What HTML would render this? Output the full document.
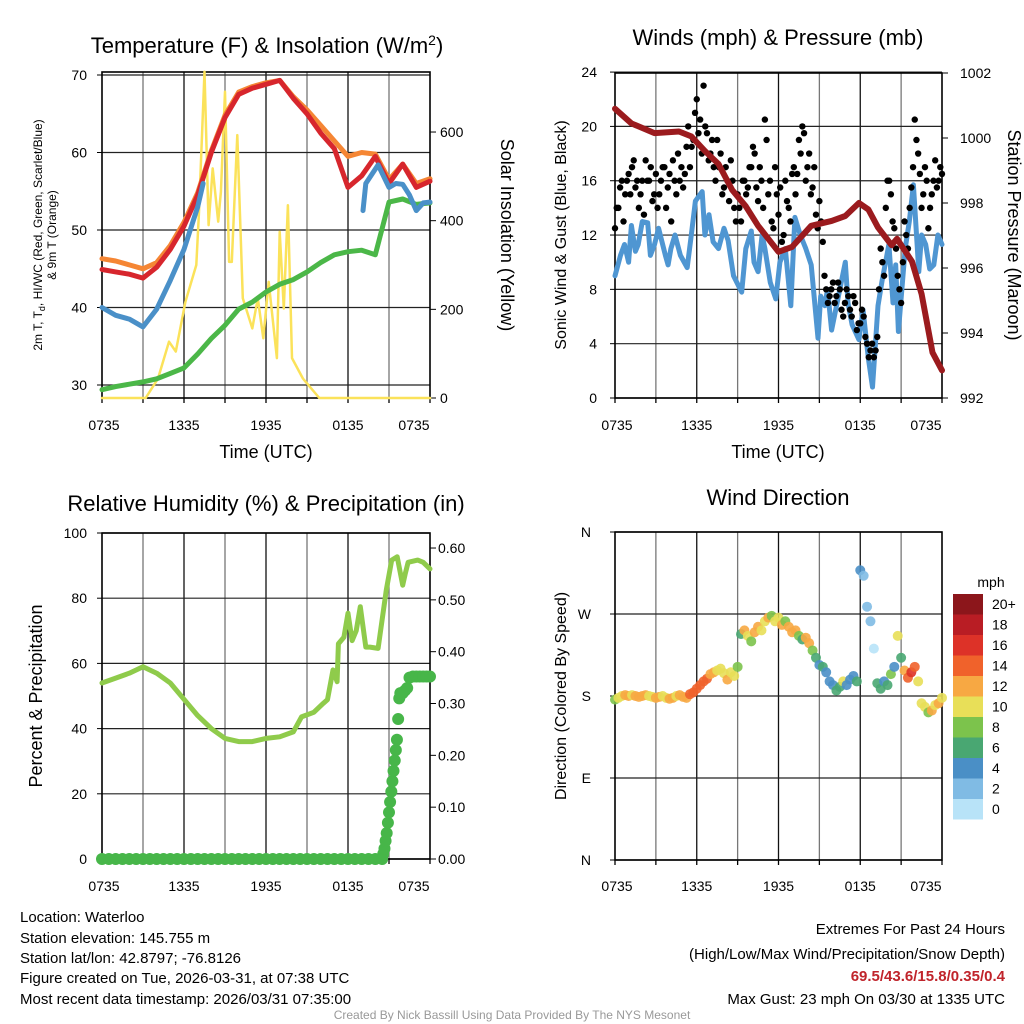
<!DOCTYPE html>
<html><head><meta charset="utf-8"><style>
html,body{margin:0;padding:0;background:#fff;}
svg{display:block;font-family:"Liberation Sans",Arial,sans-serif;}
</style></head><body>
<svg id="c" width="1024" height="1024" viewBox="0 0 1024 1024" xmlns="http://www.w3.org/2000/svg">
<g id="g"></g>
<text x="267" y="53" font-size="22" text-anchor="middle">Temperature (F) &amp; Insolation (W/m<tspan dy="-8" font-size="14">2</tspan><tspan dy="8">)</tspan></text>
<text x="778" y="45" font-size="22" text-anchor="middle">Winds (mph) &amp; Pressure (mb)</text>
<text x="266" y="511" font-size="22" text-anchor="middle">Relative Humidity (%) &amp; Precipitation (in)</text>
<text x="778" y="505" font-size="22" text-anchor="middle">Wind Direction</text>
<text x="266" y="458" font-size="18" text-anchor="middle">Time (UTC)</text>
<text x="778" y="458" font-size="18" text-anchor="middle">Time (UTC)</text>
<text transform="translate(42,235) rotate(-90)" font-size="12" text-anchor="middle">2m T, T<tspan dy="3" font-size="9">d</tspan><tspan dy="-3">, HI/WC (Red, Green, Scarlet/Blue)</tspan></text>
<text transform="translate(56,235) rotate(-90)" font-size="12" text-anchor="middle">&amp; 9m T (Orange)</text>
<text transform="translate(501,235) rotate(90)" font-size="18" text-anchor="middle">Solar Insolation (Yellow)</text>
<text transform="translate(566,235) rotate(-90)" font-size="16" text-anchor="middle">Sonic Wind &amp; Gust (Blue, Black)</text>
<text transform="translate(1008,235) rotate(90)" font-size="18" text-anchor="middle">Station Pressure (Maroon)</text>
<text transform="translate(42,696) rotate(-90)" font-size="18" text-anchor="middle">Percent &amp; Precipitation</text>
<text transform="translate(566,696) rotate(-90)" font-size="16" text-anchor="middle">Direction (Colored By Speed)</text>
<text x="991" y="587" font-size="14" text-anchor="middle">mph</text>
<g font-size="15">
<text x="20" y="922">Location: Waterloo</text>
<text x="20" y="943">Station elevation: 145.755 m</text>
<text x="20" y="963">Station lat/lon: 42.8797; -76.8126</text>
<text x="20" y="983">Figure created on Tue, 2026-03-31, at 07:38 UTC</text>
<text x="20" y="1004">Most recent data timestamp: 2026/03/31 07:35:00</text>
</g>
<g font-size="15" text-anchor="end">
<text x="1005" y="934">Extremes For Past 24 Hours</text>
<text x="1005" y="959">(High/Low/Max Wind/Precipitation/Snow Depth)</text>
<text x="1005" y="981" fill="#c0242b" font-weight="bold">69.5/43.6/15.8/0.35/0.4</text>
<text x="1005" y="1004">Max Gust: 23 mph On 03/30 at 1335 UTC</text>
</g>
<text x="512" y="1019" font-size="12" fill="#999" text-anchor="middle">Created By Nick Bassill Using Data Provided By The NYS Mesonet</text>
</svg>
<script>
// ---- data ----
const tempHours=[0,1,2,3,4,5,6,7,8,9,10,11,12,13,14,15,16,17,18,19,20,21,22,23,24];
const redT=[44.9,44.6,44.3,43.8,45.2,47.5,50.5,54.5,60,64.5,67.5,68.3,68.8,69.3,67,65,62.5,60.5,55.5,57,59.5,56,58.5,55.5,56.3];
const orangeT=[46.3,46,45.5,45,45.8,48,51,54.8,60.2,64.8,67.8,68.5,69,69.3,67.2,65.5,63.5,61.5,59.5,60,59.8,56.5,58.5,56,56.6];
const greenTd=[29.4,29.8,30.1,30.4,30.8,31.5,32.2,34,36,37.7,39.8,40.7,42,43,43.6,44.6,45.8,46.8,47.2,47.4,46.8,53.6,54,53.3,53.5];
const blueHours=[0,1,2,3,4,5,6,7,7.4,null,19.1,19.3,20.2,21,21.5,22,22.5,23,23.5,24];
const blueHI=[40,39,38.5,37.5,39.8,43.5,47.5,53,56,null,52.5,56,58.4,55.5,56,55.9,54.5,52.5,53.5,53.6];
const solHours=[0,3.2,4.1,4.9,5.4,6.1,6.9,7.1,7.5,7.8,8.1,8.5,8.7,9,9.3,9.5,9.9,10.3,11,11.4,11.8,12.2,12.8,13,13.3,13.6,13.9,14.7,15.9,24];
const solVals=[0,0,44,127,105,217,300,420,736,390,518,398,465,691,307,307,593,225,157,225,135,262,90,375,202,435,90,44,0,0];
const presHours=[0,1.2,2.9,4.7,5.6,6.6,7.6,8.6,9.6,10.5,12,13,14.4,15.9,16.9,17.9,18.6,19.3,20.3,20.7,21.8,22.5,23.3,24];
const presVals=[1000.9,1000.45,1000.15,1000.2,1000.05,999.6,999.2,998.4,997.9,997.3,996.5,996.65,997.3,997.45,997.6,998,997.8,997.25,996.7,996.9,996.2,995.2,993.4,992.85];
const windHours=[0,0.4,0.7,1,1.2,1.5,1.7,2,2.4,2.6,2.9,3.2,3.7,3.9,4.1,4.4,4.8,5.3,5.6,5.9,6.4,6.6,6.9,7.2,7.6,8,8.3,8.7,9.3,9.6,10,10.2,10.5,10.8,11,11.4,11.8,12.1,12.5,12.9,13.2,13.6,14,14.4,14.9,15.1,15.4,15.6,15.9,16.3,16.9,17.1,17.4,17.9,18.2,18.6,18.9,19.3,19.6,20.1,20.4,20.6,20.8,21.3,21.6,21.9,22.3,22.5,22.8,23.1,23.4,23.7,24];
const windVals=[9,10.5,11.3,10,12.7,10.8,11.3,13,12.9,10.5,11.3,12.5,10.5,9.8,11,12,10.5,9.6,12,14.5,15.2,12,13.5,11.5,11,12.5,11.6,9,7.8,11,12.3,10,9.3,12,11,8.5,7.3,10,11,6.8,13.3,12,11,9.8,4.4,7.5,6.8,8,5,7,10,7,5.4,4.3,6.5,2.9,0.8,6.8,8.6,11.3,7,9.8,4.9,11,13,15.7,9.3,12,11.3,9.5,9.8,12,11.3];
const gustVals=[12.5,14,16,15,16.5,17,15.5,14,16,17.5,16,14.5,16.5,15,17,14,16.5,17.5,15,16,15.5,18.5,17,19,22,20.5,23,19.5,18,17,19,18,15.5,16,17.5,14,15,13,16,15.5,17,18,14.5,16,20.5,15,13,17,13.5,11.5,16,14,16.5,15,19,20,16,18,15.5,13.5,14.5,11.5,8,7.5,8.5,7.5,8,6,8,6.5,7.5,5,5.5,6,4,3.5,3,4.5,11,9,16,15,12.5,9,7,13,11,15.5,20.5,18,14,17,12.5,15,17.5,16,16.5];
const gustVals2=[14,15.5,13,16,15,17.5,16,15,13.5,16,17,15,14,16,17,15.5,13,16,18,17,16.5,20,18.5,21,19.5,18,20,17.5,19,16,17,15,17,14.5,16,13,14,16,15,17,18.5,15.5,17,14,19,16,12.5,15,15.5,12,14.5,13,17,16.5,18,19.5,17,15,17,12.5,13,9,7,8,7,8.5,6.5,7,7.5,6,7,5.5,6.5,4.5,3,4,3.5,8,10,14,16,13,11,8,10,12,14,17,19,16.5,15,16,14,16,15.5,17];
const rhHours=[0,1,2,3,4,5,6,7,8,9,10,11,12,13,14,14.6,15.5,16.2,16.5,16.9,17.2,17.3,17.7,18,18.3,18.6,18.9,19.3,19.6,20.2,20.8,21.2,21.6,22,22.2,22.4,23.1,23.5,24];
const rhVals=[54,55.5,57,59,57,54,49,44,40,37,36,36,37,37.5,39,43.6,45,47.8,48.9,58,54.4,66,68,75.4,67,70,77.4,65,65,64.6,82.5,91.7,92.7,84,87.7,91,91.7,91,89];
const precipHours=[0,0.5,1,1.5,2,2.5,3,3.5,4,4.5,5,5.5,6,6.5,7,7.5,8,8.5,9,9.5,10,10.5,11,11.5,12,12.5,13,13.5,14,14.5,15,15.5,16,16.5,17,17.5,18,18.5,19,19.5,20,20.5,20.58,20.67,20.75,20.83,20.92,21,21.08,21.17,21.25,21.33,21.42,21.5,21.58,21.67,21.75,21.83,22,22.17,22.33,22.5,22.75,23,23.25,23.5,23.75,24];
const precipVals=[0,0,0,0,0,0,0,0,0,0,0,0,0,0,0,0,0,0,0,0,0,0,0,0,0,0,0,0,0,0,0,0,0,0,0,0,0,0,0,0,0,0,0.01,0.02,0.035,0.05,0.07,0.09,0.11,0.13,0.15,0.17,0.19,0.21,0.23,0.27,0.31,0.32,0.32,0.325,0.33,0.35,0.352,0.352,0.352,0.352,0.352,0.352];
const dirVals=[176,178,180,181,180,181,180,179,180,181,180,179,178,179,180,178,177,178,180,181,179,178,182,184,188,192,196,199,204,206,208,210,205,198,206,202,212,248,252,246,240,250,256,252,262,266,268,262,266,258,262,256,250,252,246,242,244,238,230,222,214,212,206,196,192,186,190,196,192,198,202,196,318,312,278,262,232,194,188,196,192,204,212,246,222,208,200,206,212,196,172,168,162,164,170,172,178];
const dirSpeed=[8,10,11,12,12,11,12,13,12,12,11,10,12,12,11,10,12,12,11,12,13,12,14,14,15,15,14,15,13,12,11,10,10,12,11,10,8,7,12,11,9,13,12,10,11,12,9,11,10,12,8,12,13,12,8,7,12,13,8,6,5,6,5,4,5,6,7,10,5,4,4,6,4,2,2,3,1,6,7,5,6,8,4,10,7,12,14,16,15,11,10,10,9,12,11,12,10];
const timeLabels=['0735','1335','1935','0135','0735'];
const tempTicks=[30,40,50,60,70];
const solTicks=[0,200,400,600];
const windTicks=[0,4,8,12,16,20,24];
const presTicks=[992,994,996,998,1000,1002];
const rhTicks=[0,20,40,60,80,100];
const precipTicks=[0,0.1,0.2,0.3,0.4,0.5,0.6];
const dirTicks=['N','E','S','W','N'];
const cbLabels=['20+','18','16','14','12','10','8','6','4','2','0'];
const cbColors=['#8c161b','#b91d24','#dd3228','#f0622b','#f7a843','#e8df58','#7cc34c','#49a772','#4a8fc6','#80bbe4','#b8e3f8'];

// ---- scales ----
const xL=h=>102+h*328/24, xR=h=>615+h*327/24;
const yT=t=>385-(t-30)*7.75, yS=w=>398-w*0.4433;
const yV=v=>398-v*13.58, yP=p=>398-(p-992)*32.5;
const yRH=r=>859-r*3.26, yPr=p=>859-p*518.3;
const yD=d=>860-d*328/360;
const NS='http://www.w3.org/2000/svg';
const G=document.getElementById('g');
function mk(tag,attrs,parent){const e=document.createElementNS(NS,tag);for(const k in attrs)e.setAttribute(k,attrs[k]);(parent||G).appendChild(e);return e;}
function pathD(hs,vs,fx,fy){let d='',pen=false;for(let i=0;i<hs.length;i++){if(hs[i]===null||vs[i]===null){pen=false;continue;}d+=(pen?'L':'M')+fx(hs[i]).toFixed(1)+','+fy(vs[i]).toFixed(1);pen=true;}return d;}
function line(hs,vs,fx,fy,color,w,name){const p=mk('path',{d:pathD(hs,vs,fx,fy),fill:'none',stroke:color,'stroke-width':w,'stroke-linejoin':'round','stroke-linecap':'round'});


return p;}
function txt(x,y,s,size,anchor,name){const t=mk('text',{x:x,y:y,'font-size':size,'text-anchor':anchor});t.textContent=s;


return t;}

function frame(x0,x1,y0,y1,hLines,name){
  const g=mk('g',{});
  
  
  for(let i=1;i<8;i++){const x=x0+(x1-x0)*i/8;mk('line',{x1:x,x2:x,y1:y0,y2:y1,stroke:(i%2?'#777':'#111'),'stroke-width':1.3},g);}
  hLines.forEach(y=>mk('line',{x1:x0,x2:x1,y1:y,y2:y,stroke:'#222','stroke-width':1.2},g));
  for(let i=0;i<=8;i++){const x=x0+(x1-x0)*i/8;mk('line',{x1:x,x2:x,y1:y1,y2:y1+5,stroke:'#000','stroke-width':1.3},g);}
  mk('rect',{x:x0,y:y0,width:x1-x0,height:y1-y0,fill:'none',stroke:'#000','stroke-width':1.6},g);
  return g;
}
function xLabels(fx,y,name){timeLabels.forEach((s,i)=>{let x=fx(i*6);if(i==0)x+=2;if(i==4)x-=16;txt(x,y,s,14,'middle',name);});}

// ---- Panel 1: temperature ----
frame(102,430,72,398,tempTicks.map(yT),'temperature-plot-area');
tempTicks.forEach(t=>{txt(87,yT(t)+5,String(t),14,'end','temp-y-tick');mk('line',{x1:97,x2:102,y1:yT(t),y2:yT(t),stroke:'#000'});});
solTicks.forEach(w=>{txt(440,yS(w)+5,String(w),14,'start','solar-y-tick');mk('line',{x1:430,x2:436,y1:yS(w),y2:yS(w),stroke:'#000'});});
xLabels(xL,430,'temp-x-tick');
line(solHours,solVals,xL,yS,'#fbe25a',2.5,'solar-insolation-line');
line(tempHours,greenTd,xL,yT,'#4bb748',5,'dewpoint-line');
line(tempHours,orangeT,xL,yT,'#f58634',5,'temp-9m-line');
line(tempHours,redT,xL,yT,'#d7262d',5,'temp-2m-line');
line(blueHours,blueHI,xL,yT,'#4a90c8',5,'heat-index-line');

// ---- Panel 2: winds ----
frame(615,942,73,398,windTicks.map(yV),'winds-plot-area');
windTicks.forEach(v=>{txt(597,yV(v)+5,String(v),14,'end','wind-y-tick');mk('line',{x1:610,x2:615,y1:yV(v),y2:yV(v),stroke:'#000'});});
presTicks.forEach(p=>{txt(960,yP(p)+5,String(p),14,'start','pressure-y-tick');mk('line',{x1:942,x2:948,y1:yP(p),y2:yP(p),stroke:'#000'});});
xLabels(xR,430,'winds-x-tick');
line(windHours,windVals,xR,yV,'#4f96d2',5,'sonic-wind-line');
gustVals.forEach((v,i)=>{const c=mk('circle',{cx:xR(i*0.25),cy:yV(v),r:3.2,fill:'#000'});

});
gustVals2.forEach((v,i)=>{const c=mk('circle',{cx:xR(i*0.25+0.125),cy:yV(v),r:3.2,fill:'#000'});

});
line(presHours,presVals,xR,yP,'#9b1b1e',6,'pressure-line');

// ---- Panel 3: humidity ----
frame(102,430,533,859,rhTicks.map(yRH),'humidity-plot-area');
rhTicks.forEach(r=>{txt(87,yRH(r)+5,String(r),14,'end','rh-y-tick');mk('line',{x1:97,x2:102,y1:yRH(r),y2:yRH(r),stroke:'#000'});});
precipTicks.forEach(p=>{txt(438,yPr(p)+5,p.toFixed(2),14,'start','precip-y-tick');mk('line',{x1:430,x2:436,y1:yPr(p),y2:yPr(p),stroke:'#000'});});
xLabels(xL,891,'rh-x-tick');
line(rhHours,rhVals,xL,yRH,'#8fcb4b',5,'relative-humidity-line');
precipHours.forEach((h,i)=>{const c=mk('circle',{cx:xL(h),cy:yPr(precipVals[i]),r:6,fill:'#47b649'});

});

// ---- Panel 4: wind direction ----
frame(615,942,532,860,[0,90,180,270,360].map(yD),'direction-plot-area');
dirTicks.forEach((s,i)=>{txt(591,yD(i*90)+5,s,14,'end','direction-y-tick');mk('line',{x1:610,x2:615,y1:yD(i*90),y2:yD(i*90),stroke:'#000'});});
xLabels(xR,891,'direction-x-tick');
function spdColor(s){let b=Math.floor(s/2);if(b>10)b=10;return cbColors[10-b];}
dirVals.forEach((d,i)=>{const c=mk('circle',{cx:xR(i*0.25),cy:yD(d),r:5,fill:spdColor(dirSpeed[i]),opacity:0.9});

});
cbColors.forEach((col,i)=>{const r=mk('rect',{x:953,y:594+i*20.5,width:30,height:20.5,fill:col});


txt(992,594+i*20.5+15,cbLabels[i],14,'start','colorbar-label');});
</script>
</body></html>
